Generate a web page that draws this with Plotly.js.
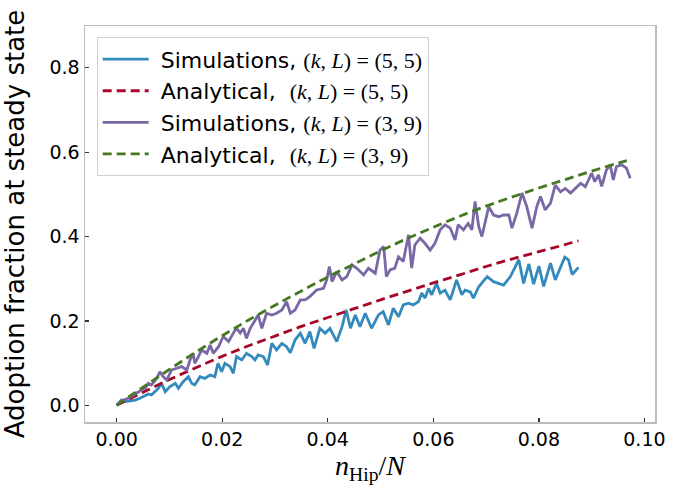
<!DOCTYPE html>
<html>
<head>
<meta charset="utf-8">
<script src="https://cdn.plot.ly/plotly-3.0.1.min.js"></script>
<style>html,body{margin:0;padding:0;background:#fff;}#chart{width:687px;height:485px;}</style>
</head>
<body>
<div id="chart"></div>
<script>
// Simulations, (k,L)=(5,5)
const simAX = [0, 0.0009, 0.0016, 0.0025, 0.0035, 0.0044, 0.0051, 0.0060, 0.0066, 0.0073, 0.0079, 0.0085, 0.0092, 0.0101, 0.0111, 0.0117, 0.0126, 0.0136, 0.0142, 0.0148, 0.0158, 0.0167, 0.0177, 0.0186, 0.0192, 0.0199, 0.0205, 0.0215, 0.0221, 0.0227, 0.0237, 0.0246, 0.0256, 0.0262, 0.0268, 0.0278, 0.0286, 0.0294, 0.0303, 0.0313, 0.0322, 0.0329, 0.0338, 0.0348, 0.0357, 0.0366, 0.0374, 0.0385, 0.0395, 0.0404, 0.0417, 0.0427, 0.0435, 0.0443, 0.0452, 0.0461, 0.0471, 0.0483, 0.0496, 0.0505, 0.0515, 0.0524, 0.0534, 0.0543, 0.0553, 0.0562, 0.0572, 0.0578, 0.0584, 0.0591, 0.0597, 0.0606, 0.0613, 0.0622, 0.0632, 0.0644, 0.0654, 0.0660, 0.0670, 0.0676, 0.0686, 0.0702, 0.0714, 0.0733, 0.0746, 0.0762, 0.0771, 0.0781, 0.0790, 0.0800, 0.0809, 0.0822, 0.0831, 0.0849, 0.0856, 0.0863, 0.0875];
const simAY = [0, 0.0125, 0.0086, 0.0102, 0.0125, 0.0165, 0.0205, 0.0268, 0.0244, 0.0323, 0.0402, 0.0521, 0.0323, 0.0442, 0.0521, 0.0402, 0.0560, 0.0679, 0.0521, 0.0481, 0.0679, 0.0639, 0.0718, 0.0679, 0.0995, 0.0797, 0.0995, 0.0916, 0.0758, 0.1153, 0.1074, 0.1232, 0.1153, 0.1074, 0.1193, 0.1153, 0.0955, 0.1469, 0.1311, 0.1469, 0.1390, 0.1248, 0.1548, 0.1707, 0.1469, 0.1746, 0.1351, 0.1825, 0.1707, 0.1825, 0.1509, 0.1865, 0.2260, 0.1825, 0.2141, 0.1865, 0.2181, 0.1825, 0.2141, 0.2220, 0.1904, 0.230, 0.210, 0.238, 0.242, 0.238, 0.246, 0.266, 0.254, 0.277, 0.262, 0.289, 0.266, 0.273, 0.250, 0.297, 0.262, 0.273, 0.269, 0.254, 0.281, 0.305, 0.293, 0.285, 0.305, 0.345, 0.289, 0.335, 0.287, 0.330, 0.282, 0.337, 0.297, 0.351, 0.345, 0.310, 0.327];

// Analytical, (k,L)=(5,5)
const anaAX = [0, 0.005, 0.01, 0.015, 0.02, 0.025, 0.03, 0.035, 0.04, 0.045, 0.05, 0.055, 0.06, 0.065, 0.07, 0.075, 0.08, 0.085, 0.0875];
const anaAY = [0, 0.031, 0.061, 0.089, 0.116, 0.141, 0.164, 0.187, 0.208, 0.229, 0.250, 0.270, 0.290, 0.309, 0.329, 0.347, 0.364, 0.381, 0.390];

// Simulations, (k,L)=(3,9)
const simBX = [0, 0.0013, 0.0022, 0.0032, 0.0041, 0.0047, 0.0054, 0.0060, 0.0066, 0.0076, 0.0082, 0.0088, 0.0095, 0.0104, 0.0114, 0.0123, 0.0133, 0.0139, 0.0145, 0.0148, 0.0155, 0.0161, 0.0171, 0.0177, 0.0183, 0.0193, 0.0202, 0.0212, 0.0221, 0.0227, 0.0234, 0.0240, 0.0246, 0.0253, 0.0259, 0.0268, 0.0275, 0.0284, 0.0294, 0.0303, 0.0313, 0.0322, 0.0329, 0.0338, 0.0348, 0.0357, 0.0366, 0.0379, 0.0392, 0.0398, 0.0403, 0.0408, 0.0417, 0.0427, 0.0436, 0.0446, 0.0455, 0.0468, 0.0477, 0.0490, 0.0499, 0.0506, 0.0511, 0.0518, 0.0527, 0.0534, 0.0543, 0.0553, 0.0559, 0.0565, 0.0575, 0.0584, 0.0594, 0.0603, 0.0613, 0.0622, 0.0632, 0.0641, 0.0647, 0.0657, 0.0666, 0.0673, 0.0679, 0.0686, 0.0692, 0.0698, 0.0705, 0.0714, 0.0724, 0.0733, 0.0743, 0.0749, 0.0758, 0.0768, 0.0777, 0.0787, 0.0796, 0.0803, 0.0812, 0.0822, 0.0831, 0.0841, 0.0850, 0.0860, 0.0869, 0.0879, 0.0888, 0.0900, 0.0906, 0.0913, 0.0919, 0.0928, 0.0935, 0.0941, 0.0947, 0.0957, 0.0966, 0.0973];
const simBY = [0, 0.0126, 0.0166, 0.0245, 0.0324, 0.0363, 0.0403, 0.052, 0.048, 0.064, 0.0797, 0.0679, 0.060, 0.0837, 0.0877, 0.0916, 0.0837, 0.1074, 0.1232, 0.0995, 0.1153, 0.131, 0.1232, 0.143, 0.1232, 0.139, 0.163, 0.151, 0.171, 0.183, 0.171, 0.1825, 0.1588, 0.1825, 0.1944, 0.2141, 0.1825, 0.2181, 0.2141, 0.2181, 0.2260, 0.2457, 0.2181, 0.2260, 0.2497, 0.2497, 0.2576, 0.2734, 0.2774, 0.2971, 0.3288, 0.2932, 0.3169, 0.2971, 0.3050, 0.3327, 0.3248, 0.3090, 0.3248, 0.3130, 0.3683, 0.3762, 0.3050, 0.321, 0.325, 0.352, 0.341, 0.404, 0.325, 0.380, 0.396, 0.384, 0.368, 0.384, 0.416, 0.428, 0.420, 0.392, 0.428, 0.416, 0.431, 0.416, 0.483, 0.424, 0.400, 0.432, 0.471, 0.451, 0.447, 0.451, 0.451, 0.420, 0.455, 0.503, 0.471, 0.420, 0.471, 0.495, 0.463, 0.479, 0.522, 0.506, 0.514, 0.503, 0.514, 0.526, 0.518, 0.550, 0.530, 0.546, 0.519, 0.558, 0.570, 0.534, 0.566, 0.570, 0.562, 0.538];

// Analytical, (k,L)=(3,9)
const anaBX = [0, 0.005, 0.01, 0.015, 0.02, 0.025, 0.03, 0.035, 0.04, 0.045, 0.05, 0.055, 0.06, 0.065, 0.07, 0.075, 0.08, 0.085, 0.09, 0.095, 0.097];
const anaBY = [0, 0.043, 0.085, 0.126, 0.165, 0.202, 0.237, 0.271, 0.304, 0.335, 0.366, 0.395, 0.422, 0.448, 0.472, 0.494, 0.515, 0.535, 0.555, 0.574, 0.581];

const xTicks = [0, 0.02, 0.04, 0.06, 0.08, 0.10];
const xTickText = ["0.00", "0.02", "0.04", "0.06", "0.08", "0.10"];
const yTicks = [0, 0.2, 0.4, 0.6, 0.8];
const yTickText = ["0.0", "0.2", "0.4", "0.6", "0.8"];

const NB = '\u00A0';
const M = 'font-family:Liberation Serif;font-size:22px';
const nameSimA = NB + 'Simulations, <span style="' + M + '">(<i>k</i>, <i>L</i>) = (5, 5)</span>';
const nameAnaA = NB + 'Analytical,' + NB + NB + '<span style="' + M + '">(<i>k</i>, <i>L</i>) = (5, 5)</span>';
const nameSimB = NB + 'Simulations, <span style="' + M + '">(<i>k</i>, <i>L</i>) = (3, 9)</span>';
const nameAnaB = NB + 'Analytical,' + NB + NB + '<span style="' + M + '">(<i>k</i>, <i>L</i>) = (3, 9)</span>';

const traces = [
  {x: simAX, y: simAY, type: 'scatter', mode: 'lines', name: nameSimA, legendgroup: 'a',
   line: {color: '#348ABD', width: 2.8}},
  {x: anaAX, y: anaAY, type: 'scatter', mode: 'lines', name: nameAnaA, legendgroup: 'b',
   line: {color: '#A60628', width: 2.8, dash: '9px,5px', shape: 'spline'}},
  {x: simBX, y: simBY, type: 'scatter', mode: 'lines', name: nameSimB, legendgroup: 'c',
   line: {color: '#7A68A6', width: 2.8}},
  {x: anaBX, y: anaBY, type: 'scatter', mode: 'lines', name: nameAnaB, legendgroup: 'd',
   line: {color: '#467821', width: 2.8, dash: '9px,5px', shape: 'spline'}}
];

const axisCommon = {
  showgrid: false, zeroline: false,
  showline: true, mirror: true, linecolor: '#bcbcbc', linewidth: 1.5,
  ticks: 'inside', ticklen: 4, tickwidth: 1.3, tickcolor: '#333',
  tickfont: {family: 'DejaVu Sans', size: 19, color: '#000'}
};

const layout = {
  width: 687, height: 485,
  margin: {l: 85, r: 32, t: 26, b: 63},
  paper_bgcolor: '#fff', plot_bgcolor: '#fff',
  showlegend: true,
  legend: {
    x: 0.0205, y: 0.9714, xanchor: 'left', yanchor: 'top',
    bgcolor: '#fff', bordercolor: '#d0d0d0', borderwidth: 1,
    font: {family: 'DejaVu Sans', size: 22, color: '#000'},
    itemwidth: 46, tracegroupgap: 0
  },
  xaxis: Object.assign({}, axisCommon, {
    range: [-0.0060, 0.1020],
    tickvals: xTicks, ticktext: xTickText,
    title: {text: '<i>n</i><sub>Hip</sub>/<i>N</i>', font: {family: 'Liberation Serif', size: 28, color: '#000'}, standoff: 7}
  }),
  yaxis: Object.assign({}, axisCommon, {
    range: [-0.0396, 0.899],
    tickvals: yTicks, ticktext: yTickText,
    title: {text: 'Adoption fraction at steady state', font: {family: 'DejaVu Sans', size: 26, color: '#000'}, standoff: 18}
  })
};

Plotly.newPlot('chart', traces, layout, {displayModeBar: false, staticPlot: true});
</script>
</body>
</html>
